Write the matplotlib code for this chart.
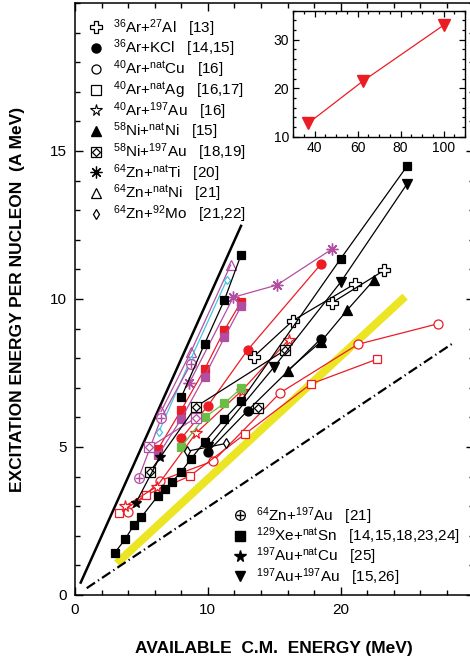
import matplotlib
matplotlib.use('Agg')
import matplotlib.pyplot as plt
from matplotlib.lines import Line2D
from matplotlib.legend_handler import HandlerTuple
from matplotlib.ticker import MultipleLocator, FixedLocator

plt.rcParams['font.family'] = ['Liberation Sans', 'DejaVu Sans']
plt.rcParams['mathtext.fontset'] = 'custom'
plt.rcParams['mathtext.rm'] = 'Liberation Sans'
plt.rcParams['mathtext.it'] = 'Liberation Sans:italic'
plt.rcParams['mathtext.bf'] = 'Liberation Sans:bold'

RED = '#ec1c24'
PURPLE = '#b24ea2'
GREEN = '#6abd45'
CYAN = '#45c4e4'
YELLOW = '#ece524'
BLACK = 'black'

# ---------------- reference lines ----------------
limit_x = [0.43, 12.5]
limit_y = [0.42, 12.47]
yellow_x = [3.14, 24.85]
yellow_y = [1.07, 10.08]
dashdot_x = [0.88, 28.5]
dashdot_y = [0.23, 8.52]

# ---------------- data series ----------------
# 129Xe+natSn (black filled squares)
xesn1_x = [3.0, 3.77, 4.44, 4.97, 6.23, 6.8, 7.33, 8.0, 8.7, 9.75, 11.25, 12.5, 20.0, 25.0]
xesn1_y = [1.43, 1.88, 2.37, 2.62, 3.34, 3.57, 3.83, 4.17, 4.58, 5.17, 5.95, 6.55, 11.36, 14.49]
xesn2_x = [8.0, 9.75, 11.25, 12.5]
xesn2_y = [6.68, 8.48, 9.97, 11.49]
# red / purple / green filled squares
redsq_x = [6.25, 8.0, 9.75, 11.25, 12.5]
redsq_y = [4.93, 6.25, 7.62, 8.95, 9.9]
purpsq_x = [6.25, 8.0, 9.75, 11.25, 12.5]
purpsq_y = [4.72, 5.95, 7.38, 8.7, 9.75]
greensq_x = [8.0, 9.75, 11.25, 12.5]
greensq_y = [5.01, 6.0, 6.48, 6.98]
# 197Au+197Au (black down triangles)
auau_x = [10.0, 15.0, 20.0, 25.0]
auau_y = [5.0, 7.71, 10.57, 13.89]
# 58Ni+natNi (black up triangles)
nini_x = [16.0, 18.5, 20.5, 22.5]
nini_y = [7.58, 8.55, 9.63, 10.64]
# 36Ar+KCl (filled circles)
arkcl_x = [10.0, 13.0, 18.5]
arkcl_y = [4.84, 6.23, 8.65]
arkcl_red_x = [8.0, 10.0, 13.0, 18.5]
arkcl_red_y = [5.29, 6.39, 8.28, 11.17]
# 36Ar+27Al (open crosses)
aral1_x = [13.45, 16.4, 21.1]
aral1_y = [8.05, 9.27, 10.52]
aral2_x = [19.37, 23.28]
aral2_y = [9.88, 10.97]
# 40Ar+natCu (red open circles)
arcu_x = [4.01, 6.4, 10.42, 15.44, 21.3, 27.3]
arcu_y = [2.81, 3.86, 4.53, 6.83, 8.47, 9.16]
# 40Ar+natAg (red open squares)
arag_x = [3.34, 5.35, 8.66, 12.8, 17.75, 22.7]
arag_y = [2.76, 3.38, 4.02, 5.44, 7.13, 7.96]
# 40Ar+197Au (red open stars)
arau_x = [3.77, 6.15, 9.11, 12.55, 16.1]
arau_y = [3.0, 3.66, 5.47, 6.9, 8.63]
# 64Zn+natTi (purple asterisks)
znti_x = [8.61, 11.92, 15.19, 19.33]
znti_y = [7.17, 10.06, 10.47, 11.68]
# 64Zn+natNi (purple open triangles)
znni_x = [6.48, 8.71, 11.72]
znni_y = [6.2, 8.2, 11.15]
# 64Zn+197Au (purple circled plus)
znau_x = [4.8, 6.48, 8.71]
znau_y = [3.96, 5.97, 7.8]
# cyan series
cyan_x = [6.3, 8.7, 11.42]
cyan_y = [5.5, 7.95, 10.64]
# 58Ni+197Au (boxed diamonds)
niau_x = [5.65, 9.1, 15.8]
niau_y = [4.17, 6.36, 8.27]
niau2_x = [13.8]
niau2_y = [6.31]
niau_p_x = [5.6, 9.11]
niau_p_y = [4.99, 5.99]
# 197Au+natCu (black stars)
aucu_x = [4.57, 6.4]
aucu_y = [3.1, 4.67]
# 64Zn+92Mo (open diamonds)
znmo_x = [8.46, 11.37]
znmo_y = [4.86, 5.12]

# inset data
inset_x = [37.0, 62.5, 100.0]
inset_y = [12.8, 21.5, 33.0]

# tick labels
main_xticks = [0, 10, 20]
main_yticks = [0, 5, 10, 15]

# legend labels
legend1_labels = [
    r'$^{36}$Ar+$^{27}$Al   [13]',
    r'$^{36}$Ar+KCl   [14,15]',
    r'$^{40}$Ar+$^{\mathrm{nat}}$Cu   [16]',
    r'$^{40}$Ar+$^{\mathrm{nat}}$Ag   [16,17]',
    r'$^{40}$Ar+$^{197}$Au   [16]',
    r'$^{58}$Ni+$^{\mathrm{nat}}$Ni   [15]',
    r'$^{58}$Ni+$^{197}$Au   [18,19]',
    r'$^{64}$Zn+$^{\mathrm{nat}}$Ti   [20]',
    r'$^{64}$Zn+$^{\mathrm{nat}}$Ni   [21]',
    r'$^{64}$Zn+$^{92}$Mo   [21,22]',
]
legend2_labels = [
    r'$^{64}$Zn+$^{197}$Au   [21]',
    r'$^{129}$Xe+$^{\mathrm{nat}}$Sn   [14,15,18,23,24]',
    r'$^{197}$Au+$^{\mathrm{nat}}$Cu   [25]',
    r'$^{197}$Au+$^{197}$Au   [15,26]',
]

fig = plt.figure(figsize=(4.70, 6.63), dpi=100)
ax = fig.add_axes([75/470, 68/663, 398.5/470, 592/663])
ax.set_xlim(0, 30)
ax.set_ylim(0, 20)

ax.plot(limit_x, limit_y, color=BLACK, lw=1.8, zorder=2)
ax.plot(yellow_x, yellow_y, color=YELLOW, lw=5.8, solid_capstyle='butt', zorder=1)
ax.plot(dashdot_x, dashdot_y, color=BLACK, lw=1.6, linestyle=(0, (4.5, 1.6, 0.6, 1.6)), zorder=2)

LW = 0.9

def series(x, y, color, marker, ms, mfc=None, mec=None, mew=0.9, lw=LW, z=3):
    ax.plot(x, y, color=color, lw=lw, marker=marker, ms=ms,
            mfc=mfc if mfc is not None else color,
            mec=mec if mec is not None else color, mew=mew, zorder=z)

SQ = 6.2
CI = 6.5

series(arcu_x, arcu_y, RED, 'o', CI, mfc='white')
series(arag_x, arag_y, RED, 's', SQ, mfc='white')
series(arau_x, arau_y, RED, '*', 8.5, mfc='white')
series(arkcl_red_x, arkcl_red_y, RED, 'o', CI)
series(redsq_x, redsq_y, RED, 's', SQ)
series(purpsq_x, purpsq_y, PURPLE, 's', SQ)
series(greensq_x, greensq_y, GREEN, 's', SQ)
series(znti_x, znti_y, PURPLE, (8, 2, 0), 8.5, mew=1.0)
series(znni_x, znni_y, PURPLE, '^', 7.5, mfc='none')
series(cyan_x, cyan_y, CYAN, 'd', 4.5, mfc='white')
series(znau_x, znau_y, PURPLE, 'o', 7, mfc='white')
ax.plot(znau_x, znau_y, ls='none', marker='+', ms=5.5, mec=PURPLE, mew=1.0, zorder=4)
series(niau_p_x, niau_p_y, PURPLE, 's', 7, mfc='white')
ax.plot(niau_p_x, niau_p_y, ls='none', marker='D', ms=4, mfc='none', mec=PURPLE, mew=0.9, zorder=4)
series(niau_x, niau_y, BLACK, 's', 7, mfc='white')
ax.plot(niau_x, niau_y, ls='none', marker='D', ms=4, mfc='none', mec=BLACK, mew=0.9, zorder=4)
series(niau2_x, niau2_y, BLACK, 's', 7, mfc='white')
ax.plot(niau2_x, niau2_y, ls='none', marker='D', ms=4, mfc='none', mec=BLACK, mew=0.9, zorder=4)
series(znmo_x, znmo_y, BLACK, 'd', 5.5, mfc='white')
series(aucu_x, aucu_y, BLACK, '*', 7.5)
series(arkcl_x, arkcl_y, BLACK, 'o', CI)
series(nini_x, nini_y, BLACK, '^', 6.5)
series(auau_x, auau_y, BLACK, 'v', 6.5)
series(aral1_x, aral1_y, BLACK, 'P', 8, mfc='white')
series(aral2_x, aral2_y, BLACK, 'P', 8, mfc='white')
series(xesn1_x, xesn1_y, BLACK, 's', SQ)
series(xesn2_x, xesn2_y, BLACK, 's', SQ)

# axes styling
ax.xaxis.set_major_locator(FixedLocator(main_xticks))
ax.xaxis.set_minor_locator(MultipleLocator(2))
ax.yaxis.set_major_locator(FixedLocator(main_yticks))
ax.yaxis.set_minor_locator(MultipleLocator(1))
ax.tick_params(which='both', direction='in', top=True, right=True, width=1.0, labelsize=11, pad=6)
ax.tick_params(which='major', length=6)
ax.tick_params(which='minor', length=3.5)
for s in ax.spines.values():
    s.set_linewidth(1.1)

ax.set_xlabel('AVAILABLE  C.M.  ENERGY (MeV)', fontsize=12.5, fontweight='bold')
ax.xaxis.set_label_coords(0.5, -0.078)
ax.set_ylabel('EXCITATION ENERGY PER NUCLEON  (A MeV)', fontsize=12.5, fontweight='bold')
ax.yaxis.set_label_coords(-0.125, 0.5)

# legends
hm = {tuple: HandlerTuple(ndivide=1, pad=0)}
h1 = [
    Line2D([], [], ls='none', marker='P', ms=8, mfc='white', mec=BLACK, mew=0.9),
    Line2D([], [], ls='none', marker='o', ms=6.5, mfc=BLACK, mec=BLACK),
    Line2D([], [], ls='none', marker='o', ms=6.5, mfc='white', mec=BLACK, mew=0.9),
    Line2D([], [], ls='none', marker='s', ms=6.5, mfc='white', mec=BLACK, mew=0.9),
    Line2D([], [], ls='none', marker='*', ms=8.5, mfc='white', mec=BLACK, mew=0.8),
    Line2D([], [], ls='none', marker='^', ms=6.5, mfc=BLACK, mec=BLACK),
    (Line2D([], [], ls='none', marker='s', ms=7, mfc='white', mec=BLACK, mew=0.9),
     Line2D([], [], ls='none', marker='D', ms=4, mfc='none', mec=BLACK, mew=0.9)),
    Line2D([], [], ls='none', marker=(8, 2, 0), ms=8.5, mec=BLACK, mew=0.9),
    Line2D([], [], ls='none', marker='^', ms=7.5, mfc='white', mec=BLACK, mew=0.9),
    Line2D([], [], ls='none', marker='d', ms=5.5, mfc='white', mec=BLACK, mew=0.9),
]
leg1 = ax.legend(h1, legend1_labels, loc='upper left', bbox_to_anchor=(0.03, 0.976),
                 frameon=False, fontsize=11, handlelength=1.2, handletextpad=0.5,
                 labelspacing=-0.06, borderaxespad=0, borderpad=0,
                 handler_map=hm)
ax.add_artist(leg1)
h2 = [
    (Line2D([], [], ls='none', marker='o', ms=7, mfc='white', mec=BLACK, mew=0.9),
     Line2D([], [], ls='none', marker='+', ms=5.5, mec=BLACK, mew=1.0)),
    Line2D([], [], ls='none', marker='s', ms=7, mfc=BLACK, mec=BLACK),
    Line2D([], [], ls='none', marker='*', ms=8.5, mfc=BLACK, mec=BLACK),
    Line2D([], [], ls='none', marker='v', ms=7.5, mfc=BLACK, mec=BLACK),
]
leg2 = ax.legend(h2, legend2_labels, loc='upper left', bbox_to_anchor=(0.39, 0.152),
                 frameon=False, fontsize=11, handlelength=1.2, handletextpad=0.5,
                 labelspacing=-0.08, borderaxespad=0, borderpad=0,
                 handler_map=hm)

# inset
axi = fig.add_axes([293.3/470, 1 - 136.7/663, 171.7/470, 126/663])
axi.set_xlim(30, 110)
axi.set_ylim(10, 36)
axi.plot(inset_x, inset_y, color=RED, lw=0.9, marker='v', ms=8, mfc=RED, mec=RED)
axi.xaxis.set_major_locator(MultipleLocator(20))
axi.xaxis.set_minor_locator(MultipleLocator(5))
axi.yaxis.set_major_locator(MultipleLocator(10))
axi.yaxis.set_minor_locator(MultipleLocator(2))
axi.tick_params(which='both', direction='in', top=True, right=True, width=0.9, labelsize=10, pad=3)
axi.tick_params(which='major', length=4)
axi.tick_params(which='minor', length=2.5)
for s in axi.spines.values():
    s.set_linewidth(1.0)

fig.savefig('out.png', dpi=100)
